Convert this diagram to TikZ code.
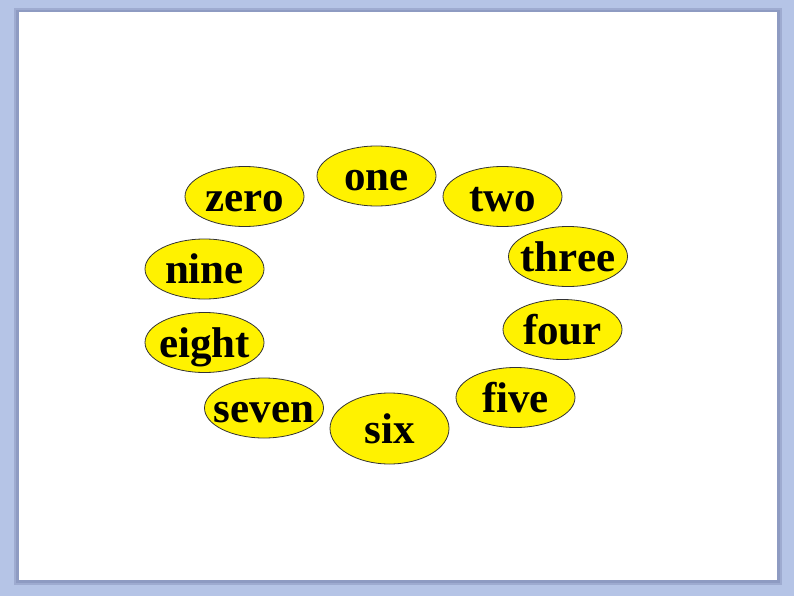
\documentclass[tikz,border=0pt]{standalone}
\usepackage{fontspec}
\setmainfont{Liberation Serif}
\usepackage{xcolor}
\usetikzlibrary{shapes.geometric}

\definecolor{framebg}{HTML}{B5C4E6}
\definecolor{frameshade}{HTML}{8E9BC2}
\newcommand\numword[1]{\makebox[0pt]{#1}}

\begin{document}
\begin{tikzpicture}[x=1pt,y=-1pt,
  word/.style={ellipse,draw=black!80,line width=0.8pt,fill=yellow,
    minimum width=119pt,minimum height=60pt,inner sep=0pt,
    text height=31pt,text depth=2pt,
    font=\bfseries\fontsize{43}{43}\selectfont}]
\useasboundingbox (0,0) rectangle (794,596);
  % slide frame
  \fill[framebg] (0,0) rectangle (794,596);
  \fill[frameshade!60!framebg] (14,8) rectangle (782,585);
  \fill[frameshade] (16,10) rectangle (780,583);
  \fill[white] (19,12) rectangle (777,580);
  % the ring of words
  \node[word] (zero)  at (244.5,196.5) {\numword{zero}};
  \node[word] (one)   at (376.5,176)   {\numword{one}};
  \node[word] (two)   at (502.5,196.5) {\numword{two}};
  \node[word] (three) at (568,256.5)   {\numword{three}};
  \node[word] (four)  at (562.5,329.5) {\numword{four}};
  \node[word] (five)  at (515.5,397.5) {\numword{five}};
  \node[word,minimum height=71pt] (six) at (389.5,428.5) {\numword{six}};
  \node[word] (seven) at (264,408)     {\numword{seven}};
  \node[word] (eight) at (204.5,342.5) {\numword{eight}};
  \node[word] (nine)  at (204.5,269)   {\numword{nine}};
\end{tikzpicture}
\end{document}
